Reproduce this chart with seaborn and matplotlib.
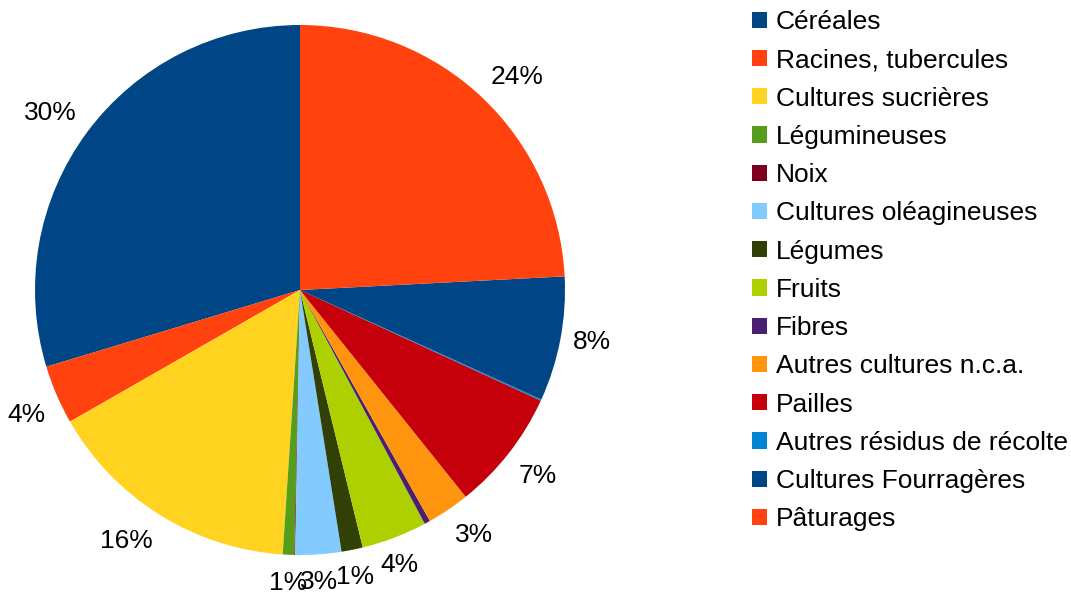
import matplotlib
matplotlib.use("Agg")
import numpy as np
import matplotlib.pyplot as plt
import seaborn as sns
from matplotlib.patches import Patch

categories = ["Céréales", "Racines, tubercules", "Cultures sucrières", "Légumineuses",
              "Noix", "Cultures oléagineuses", "Légumes", "Fruits", "Fibres",
              "Autres cultures n.c.a.", "Pailles", "Autres résidus de récolte",
              "Cultures Fourragères", "Pâturages"]
values = [29.7, 3.6, 15.7, 0.7, 0.05, 2.8, 1.3, 4.0, 0.35, 2.6, 7.4, 0.08, 7.6, 24.2]
colors = ["#004586", "#ff420e", "#ffd320", "#579d1c", "#7e0021", "#83caff", "#314004",
          "#aecf00", "#4b1f6f", "#ff950e", "#c5000b", "#0084d1", "#004586", "#ff420e"]

sns.set_theme(style="white")
plt.rcParams['font.family'] = ['Liberation Sans', 'DejaVu Sans']
plt.rcParams['text.color'] = 'black'

W, H = 1071, 592
fig = plt.figure(figsize=(W / 100, H / 100), dpi=100)
cx, cy, r = 300, 290, 265
ax = fig.add_axes([(cx - r) / W, (H - cy - r) / H, 2 * r / W, 2 * r / H])

def fmt(p):
    return f"{p:.0f}%" if p >= 0.5 else ""

wedges, texts, autotexts = ax.pie(values, colors=colors, startangle=90, counterclock=True,
                                  autopct=fmt, pctdistance=1.1, radius=1,
                                  wedgeprops=dict(linewidth=0),
                                  textprops=dict(fontsize=19, color="black"))
ax.set_xlim(-1, 1)
ax.set_ylim(-1, 1)
ax.set_aspect("equal")
ax.axis("off")

# place labels like LibreOffice: label box touches a circle just outside the pie,
# centred near the axes, corner-anchored in the diagonal sectors
fig.canvas.draw()
renderer = fig.canvas.get_renderer()
r0 = 1.047
for w, t in zip(wedges, autotexts):
    if not t.get_text():
        continue
    ang = ((w.theta1 + w.theta2) / 2) % 360
    theta = np.deg2rad(ang)
    bb = t.get_window_extent(renderer)
    c, s = np.cos(theta), np.sin(theta)
    sector = int(((ang + 22.5) % 360) // 45)  # 0=E,1=NE,2=N,...
    dx = {0: 1, 1: 1, 2: 0, 3: -1, 4: -1, 5: -1, 6: 0, 7: 1}[sector]
    dy = {0: 0, 1: 1, 2: 1, 3: 1, 4: 0, 5: -1, 6: -1, 7: -1}[sector]
    hw = bb.width / 2 / r
    hh = bb.height / 2 / r * (0.95 if dy >= 0 else 1.28)
    t.set_position((r0 * c + dx * hw, r0 * s + dy * hh))
    t.set_ha("center")
    t.set_va("center")

handles = [Patch(facecolor=c, edgecolor="none") for c in colors]
leg = fig.legend(handles, categories, loc="upper left", bbox_to_anchor=(752 / W, 1 - 10 / H),
                 frameon=False, fontsize=19, handlelength=0.57, handleheight=0.57,
                 handletextpad=0.34, labelspacing=0.54, borderaxespad=0, borderpad=0,
                 labelcolor="black")

fig.savefig("out.png", dpi=100)
